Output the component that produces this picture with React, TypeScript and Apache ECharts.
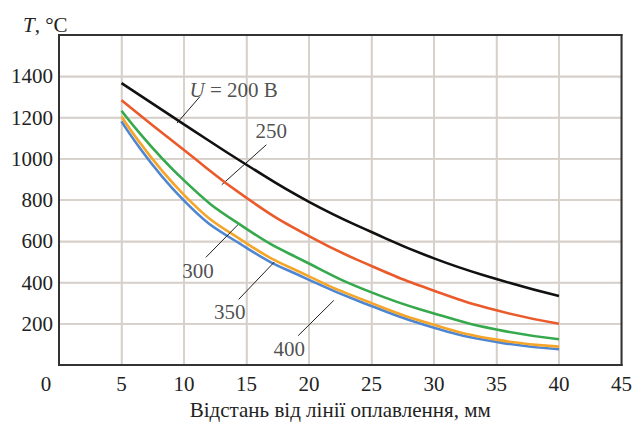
import React, { useEffect, useRef } from "react";
import * as echarts from "echarts";

const distances = [5, 10, 15, 20, 25, 30, 35, 40];
const u200 = [1367, 1167, 971, 791, 645, 517, 417, 334];
const u250 = [1284, 1042, 810, 625, 480, 360, 265, 200];
const u300 = [1233, 895, 660, 492, 352, 250, 172, 125];
const u350 = [1205, 825, 590, 430, 300, 195, 123, 89];
const u400 = [1181, 797, 568, 413, 286, 181, 112, 76];

const seriesNames = ["200", "250", "300", "350", "400"];
const seriesColors = ["#111111", "#ea5a2b", "#36a94c", "#f5a62a", "#4f86d1"];

// annotation labels: [x, y, text]
const labelTexts = ["{i|U} = 200 В", "250", "300", "350", "400"];
const labelX = [13.97, 16.98, 11.11, 13.65, 18.41];
const labelY = [1334, 1135, 456, 256, 76];
// leader lines: start (near label) and end (on curve)
const leaderX1 = [11.27, 16.59, 11.75, 14.37, 19.13];
const leaderY1 = [1301, 1068, 522, 318, 142];
const leaderX2 = [9.44, 13.02, 14.44, 17.22, 21.98];
const leaderY2 = [1173, 874, 688, 499, 313];

const xTicks = { min: 0, max: 45, interval: 5 };
const yTicks = { min: 0, max: 1600, interval: 200 };
const xGrid = [5, 10, 15, 20, 25, 30, 35, 40];
const yGrid = [200, 400, 600, 800, 1000, 1200, 1400];

const FONT = "'Liberation Serif', 'Times New Roman', serif";
const FS = 21;
const GRID_COLOR = "#d6cfca";
const FRAME_COLOR = "#333333";

export default function App() {
  const ref = useRef<HTMLDivElement>(null);
  useEffect(() => {
    if (!ref.current) return;
    const chart = echarts.init(ref.current, undefined, { renderer: "svg" });
    const valueSets = [u200, u250, u300, u350, u400];
    const lineSeries = valueSets.map((vals, i) => ({
      type: "line",
      name: seriesNames[i],
      data: distances.map((d, j) => [d, vals[j]]),
      smooth: 0.5,
      showSymbol: false,
      symbol: "none",
      lineStyle: { color: seriesColors[i], width: 2.6 },
      z: 5 - i + 2,
    }));

    // gridlines and frame as filled thin rectangles, positioned via the axes' scales
    const gridData: any[] = [
      ...xGrid.map((x) => ["v", x, GRID_COLOR, 1.5]),
      ...yGrid.map((y) => ["h", y, GRID_COLOR, 1.5]),
      ["h", yTicks.max, FRAME_COLOR, 2],
      ["v", xTicks.max, FRAME_COLOR, 2],
      ["h", yTicks.min, FRAME_COLOR, 2],
      ["v", xTicks.min, FRAME_COLOR, 2],
    ];
    const gridSeries = {
      type: "custom",
      silent: true,
      clip: false,
      data: gridData,
      encode: { x: -1, y: -1 },
      renderItem: (params: any, api: any) => {
        const d = gridData[params.dataIndex];
        const kind = d[0];
        const val = d[1];
        const color = d[2];
        const w = d[3];
        const p0 = api.coord([xTicks.min, yTicks.min]);
        const p1 = api.coord([xTicks.max, yTicks.max]);
        const left = p0[0];
        const bottom = p0[1];
        const right = p1[0];
        const top = p1[1];
        if (kind === "v") {
          const px = api.coord([val, yTicks.min])[0];
          return {
            type: "rect",
            shape: { x: px - w / 2, y: top - 1, width: w, height: bottom - top + 2 },
            style: { fill: color },
            z2: color === FRAME_COLOR ? 10 : 0,
          };
        }
        const py = api.coord([xTicks.min, val])[1];
        return {
          type: "rect",
          shape: { x: left - 1, y: py - w / 2, width: right - left + 2, height: w },
          style: { fill: color },
          z2: color === FRAME_COLOR ? 10 : 0,
        };
      },
      z: 1,
    };

    const leaderSeries = {
      type: "line",
      data: [],
      silent: true,
      markLine: {
        silent: true,
        symbol: ["none", "none"],
        label: { show: false },
        lineStyle: { color: "#222", width: 1, type: "solid" },
        data: leaderX1.map((x, i) => [
          { coord: [x, leaderY1[i]] },
          { coord: [leaderX2[i], leaderY2[i]] },
        ]),
      },
      z: 10,
    };
    const labelSeries = {
      type: "scatter",
      silent: true,
      symbolSize: 1,
      itemStyle: { color: "transparent" },
      data: labelX.map((x, i) => [x, labelY[i], labelTexts[i]]),
      label: {
        show: true,
        position: "inside",
        formatter: (p: any) => p.data[2],
        fontFamily: FONT,
        fontSize: FS,
        color: "#222",
        rich: {
          i: { fontStyle: "italic", fontFamily: FONT, fontSize: FS, color: "#222" },
        },
      },
      z: 11,
    };
    chart.setOption({
      animation: false,
      textStyle: { fontFamily: FONT },
      title: {
        text: "{i|T}, °C",
        left: 18,
        top: 9,
        textStyle: {
          fontFamily: FONT,
          fontSize: FS,
          fontWeight: "normal",
          color: "#222",
          rich: {
            i: { fontStyle: "italic", fontFamily: FONT, fontSize: FS, color: "#222" },
          },
        },
      },
      grid: {
        left: 59,
        top: 35,
        right: 9,
        bottom: 53,
      },
      xAxis: {
        type: "value",
        min: xTicks.min,
        max: xTicks.max,
        interval: xTicks.interval,
        name: "Відстань від лінії оплавлення, мм",
        nameLocation: "middle",
        nameGap: 34,
        nameTextStyle: { fontFamily: FONT, fontSize: FS, color: "#222" },
        axisLine: { show: true, onZero: false, lineStyle: { color: FRAME_COLOR, width: 2 } },
        axisTick: { show: false },
        splitLine: { show: true, lineStyle: { color: GRID_COLOR, width: 1.5 } },
        axisLabel: {
          margin: 8,
          fontFamily: FONT,
          fontSize: FS,
          color: "#222",
          formatter: (v: number) => (v === 0 ? "{z|0}" : String(v)),
          rich: {
            z: { fontFamily: FONT, fontSize: FS, color: "#222", padding: [0, 26, 0, 0] },
          },
        },
      },
      yAxis: {
        type: "value",
        min: yTicks.min,
        max: yTicks.max,
        interval: yTicks.interval,
        axisLine: { show: true, onZero: false, lineStyle: { color: FRAME_COLOR, width: 2 } },
        axisTick: { show: false },
        splitLine: { show: true, lineStyle: { color: GRID_COLOR, width: 1.5 } },
        axisLabel: {
          margin: 6,
          fontFamily: FONT,
          fontSize: FS,
          color: "#222",
          formatter: (v: number) => (v === 0 || v === 1600 ? "" : String(v)),
        },
      },
      series: [gridSeries, ...lineSeries, leaderSeries, labelSeries],
    });
    return () => chart.dispose();
  }, []);
  return (
    <div
      ref={ref}
      style={{ position: "fixed", left: 0, top: 0, width: 635, height: 425, background: "#fff" }}
    />
  );
}
